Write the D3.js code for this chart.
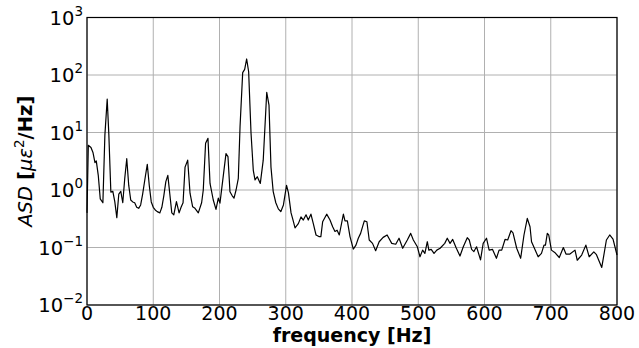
<!DOCTYPE html>
<html><head><meta charset="utf-8">
<script src="https://cdn.jsdelivr.net/npm/d3@7"></script>
<style>body{margin:0;background:#fff}svg{display:block}text{font-family:"DejaVu Sans",sans-serif}</style>
</head><body><svg id="c" width="639" height="348"></svg>
<script>
const freq = [0,2,6,9,12,14,17,20,24,27,30.5,33,36,39,42,45,48,51,54,57,60,63,66,69,72,75,78,81,84,88,91,94,97,100,103,106,110,113,116,119,122,125,128,131,135,139,142,145,148,152,155.5,159.5,163,168,173,175.5,179,182.6,185.7,190.6,194.7,198.2,200.7,205.8,209.8,212.8,215.8,219,221.9,225,228.4,231,235,238,241,244,247.6,251,253.6,257,261.6,266,271.3,274.7,277.7,281,285,288.8,292.5,296.5,301.2,304,308,311,314,319,323,326.5,330.6,334,338,341.6,345.7,350,353,355.7,361.8,366.8,370.8,374.3,377.5,380.8,387,389.4,393,397,402,406,409.5,413,416,418.6,422.5,426,431,435.7,441,447,453,460,466,471,476.5,483.5,488.6,492.6,498.6,502.6,506.6,510,513.7,516,519.5,523.8,528,533,540,543.8,548,552,557,563,568,574,577,580.6,584,588,594,598,603,607,612,618,622,626,631,635,640,643,648.6,654.6,659.6,664.6,668.7,671,676,681,686,689.8,692,694.8,697,701,706,712.9,719,723,729,736.6,740,746.7,753,758,765,769,777,784,789,794,800];
const asd = [0.4,6,5.5,4.5,3.0,3.2,1.8,0.7,0.6,9,38,9,0.92,0.95,0.62,0.33,0.85,0.95,0.6,1.6,3.5,1.2,0.67,0.62,0.6,0.5,0.48,0.55,0.85,1.7,2.8,1.2,0.62,0.5,0.45,0.42,0.4,0.5,0.8,1.4,1.8,0.85,0.4,0.37,0.63,0.4,0.5,0.6,2.5,3.3,0.88,0.51,0.48,0.4,0.6,1.0,6.5,7.9,1.3,0.67,0.46,0.72,0.59,1.8,4.3,3.8,0.93,0.8,0.72,1.0,1.6,12.6,110,125,190,114,9.7,2.2,1.5,1.7,1.3,3.3,50,30,2.5,0.95,0.6,0.47,0.42,0.55,1.2,0.9,0.4,0.3,0.22,0.26,0.34,0.3,0.37,0.3,0.38,0.26,0.165,0.155,0.155,0.28,0.38,0.3,0.23,0.19,0.2,0.165,0.38,0.29,0.29,0.155,0.094,0.11,0.145,0.176,0.23,0.29,0.28,0.135,0.118,0.088,0.126,0.15,0.165,0.118,0.114,0.145,0.097,0.135,0.176,0.135,0.103,0.069,0.09,0.079,0.126,0.09,0.093,0.079,0.09,0.097,0.118,0.145,0.118,0.138,0.1,0.071,0.103,0.148,0.135,0.093,0.085,0.103,0.061,0.118,0.145,0.09,0.093,0.065,0.09,0.09,0.138,0.135,0.196,0.18,0.097,0.065,0.165,0.32,0.23,0.126,0.093,0.069,0.079,0.11,0.11,0.176,0.165,0.09,0.082,0.067,0.1,0.077,0.077,0.09,0.06,0.074,0.11,0.069,0.084,0.075,0.045,0.135,0.165,0.14,0.074];
const xTicks = [0,100,200,300,400,500,600,700,800];
const yExponents = [-2,-1,0,1,2,3];

const svg = d3.select("#c");
const L=87, R=617, T=17.5, B=305;
const x = d3.scaleLinear().domain([0,800]).range([L,R]);
const y = d3.scaleLog().domain([1e-2,1e3]).range([B,T]);

// grid
svg.append("g").selectAll("line").data(xTicks).join("line")
  .attr("x1",d=>x(d)).attr("x2",d=>x(d)).attr("y1",T).attr("y2",B)
  .attr("stroke","#b0b0b0").attr("stroke-width",1);
svg.append("g").selectAll("line").data(yExponents).join("line")
  .attr("x1",L).attr("x2",R).attr("y1",d=>y(Math.pow(10,d))).attr("y2",d=>y(Math.pow(10,d)))
  .attr("stroke","#b0b0b0").attr("stroke-width",1);

// line
const data = freq.map((f,i)=>[f,asd[i]]);
svg.append("path").datum(data)
  .attr("fill","none").attr("stroke","#000").attr("stroke-width",1.2).attr("stroke-linejoin","round")
  .attr("d", d3.line().x(d=>x(d[0])).y(d=>y(d[1])));

// frame
svg.append("rect").attr("x",L).attr("y",T).attr("width",R-L).attr("height",B-T)
  .attr("fill","none").attr("stroke","#000").attr("stroke-width",1.2);

// x tick labels
svg.append("g").selectAll("text").data(xTicks).join("text")
  .attr("x",d=>x(d)).attr("y",320).attr("text-anchor","middle")
  .attr("font-size",19).text(d=>d);

// y tick labels
svg.append("g").selectAll("text").data(yExponents).join("text")
  .attr("x",83).attr("y",d=>y(Math.pow(10,d))+7).attr("text-anchor","end")
  .attr("font-size",19.5)
  .each(function(d){
    const t=d3.select(this);
    t.append("tspan").text("10");
    t.append("tspan").attr("font-size",13.5).attr("dy",-9)
      .text(d<0?"\u2212"+Math.abs(d):String(d));
  });

// x label
svg.append("text").attr("x",(L+R)/2).attr("y",342).attr("text-anchor","middle")
  .attr("font-size",19).attr("font-weight","bold").text("frequency [Hz]");

// y label
const ylab = svg.append("text").attr("transform",`translate(32,${(T+B)/2}) rotate(-90)`)
  .attr("text-anchor","middle").attr("font-size",19.5);
ylab.append("tspan").attr("font-style","italic").text("ASD ");
ylab.append("tspan").attr("font-weight","bold").text("[");
ylab.append("tspan").attr("font-style","italic").text("με");
ylab.append("tspan").attr("font-size",13.5).attr("dy",-8).text("2");
ylab.append("tspan").attr("font-weight","bold").attr("dy",8).text("/Hz]");
</script></body></html>
